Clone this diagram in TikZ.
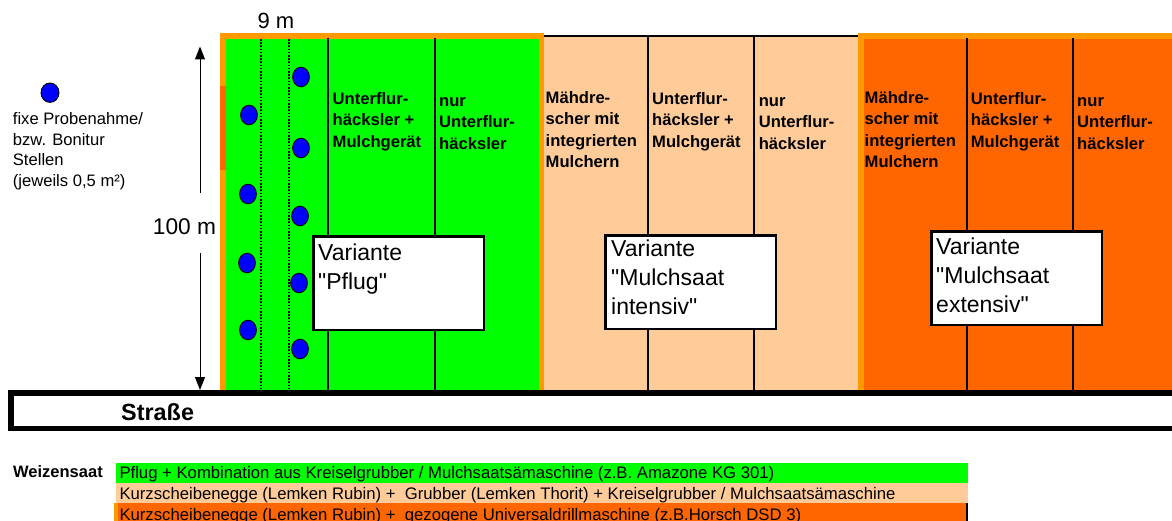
\documentclass[tikz,border=0pt]{standalone}
\usepackage{fontspec}
\setmainfont{Liberation Sans}
\usetikzlibrary{arrows.meta}
\definecolor{fgreen}{HTML}{00FF00}
\definecolor{fpeach}{HTML}{FFCC99}
\definecolor{forange}{HTML}{FF6600}
\definecolor{fborder}{HTML}{FF9900}
\definecolor{fblue}{HTML}{0000FF}
\newcommand\tstrut[1]{\rule{0pt}{#1}}
\newcommand\qq{\textquotedbl}
\begin{document}
\begin{tikzpicture}[x=1pt,y=-1pt,
  collabel/.style={font=\fontsize{16.6pt}{21.5pt}\selectfont\bfseries, align=left, inner sep=0pt, anchor=north west},
  vartext/.style={font=\fontsize{23pt}{29pt}\selectfont, align=left, inner sep=0pt, anchor=north west},
  varbox/.style={draw=black, line width=2.5pt, fill=white, anchor=north west, inner sep=0pt, minimum width=170.5pt, minimum height=93.5pt},
  divider/.style={line width=2.5pt, draw=black},
  dotline/.style={line width=1.6pt, dash pattern=on 1.6pt off 1.6pt},
  probe/.style={draw=black, line width=0.9pt, fill=fblue},
  dimarrow/.style={line width=1pt, -{Triangle[width=10pt,length=13pt]}},
  legtext/.style={font=\fontsize{16.7pt}{20pt}\selectfont, anchor=base west, inner sep=0pt},
]
\clip (0,0) rectangle (1172,521);
\fill[white] (0,0) rectangle (1172,521);

% ---- field: Pflug (green)
\fill[fgreen] (226,39) rectangle (539,390);
\fill[fborder] (220,33) rectangle (226,390);
\fill[forange] (220,86) rectangle (226,170);
\fill[fborder] (220,33) rectangle (544,39);
\fill[fborder] (539,33) rectangle (544,390);
% ---- field: Mulchsaat intensiv (peach)
\fill[fpeach] (544,35) rectangle (858,390);
\draw[line width=2.5pt] (544,35.8) -- (858,35.8);
% ---- field: Mulchsaat extensiv (orange)
\fill[forange] (864,39) rectangle (1172,390);
\fill[fborder] (858,33) rectangle (864,390);
\fill[fborder] (858,33) rectangle (1172,39);

% dotted lines
\draw[dotline] (261,39) -- (261,390);
\draw[dotline] (289,39) -- (289,390);

% dividers
\foreach \xx in {328,435,967,1073} \draw[divider] (\xx,38) -- (\xx,390);
\foreach \xx in {648,754} \draw[divider] (\xx,36) -- (\xx,390);

% probe points
\foreach \px/\py in {249/115,248/194,247/263,248/330,301/77,301/148,300/216,299/283,300/349}
  \filldraw[probe] (\px,\py) ellipse [x radius=8.4pt, y radius=9.8pt];

% column labels
\node[collabel] (g2) at (332.5,91) {\tstrut{13pt}Unterflur-\\häcksler +\\Mulchgerät};
\node[collabel] (g3) at (439,93) {\tstrut{13pt}nur\\Unterflur-\\häcksler};
\node[collabel] (p1) at (545.5,90) {\tstrut{13pt}Mähdre-\\scher mit\\integrierten\\Mulchern};
\node[collabel] (p2) at (652,91) {\tstrut{13pt}Unterflur-\\häcksler +\\Mulchgerät};
\node[collabel] (p3) at (758.6,93) {\tstrut{13pt}nur\\Unterflur-\\häcksler};
\node[collabel] (o1) at (864.5,90) {\tstrut{13pt}Mähdre-\\scher mit\\integrierten\\Mulchern};
\node[collabel] (o2) at (970.7,91) {\tstrut{13pt}Unterflur-\\häcksler +\\Mulchgerät};
\node[collabel] (o3) at (1077,93) {\tstrut{13pt}nur\\Unterflur-\\häcksler};

% Variante boxes
\node[varbox] (v1) at (312.25,235.25) {};
\node[vartext] (v1t) at (318,242) {\tstrut{18pt}Variante\\\qq Pflug\qq};
\node[varbox] (v2) at (604.25,234.25) {};
\node[vartext] (v2t) at (611,238.7) {\tstrut{18pt}Variante\\\qq Mulchsaat\\intensiv\qq};
\node[varbox] (v3) at (930.25,230.25) {};
\node[vartext] (v3t) at (936,236.3) {\tstrut{18pt}Variante\\\qq Mulchsaat\\extensiv\qq};

% 9 m
\node[font=\fontsize{22pt}{26pt}\selectfont, anchor=base, inner sep=0pt] (nm) at (276,28.3) {9 m};

% 100 m dimension
\node[font=\fontsize{22.7pt}{27pt}\selectfont, anchor=base, inner sep=0pt] (hm) at (184.5,235) {100 m};
\coordinate (atop) at (200,46.5);
\coordinate (abot) at (200,390);
\coordinate (agt) at (200,193);
\coordinate (agb) at (200,253);
\draw[dimarrow] (agt) -- (atop);
\draw[dimarrow] (agb) -- (abot);

% legend dot
\filldraw[probe] (50,92.7) ellipse [x radius=9pt, y radius=9.7pt];
\node[font=\fontsize{16.6pt}{20.9pt}\selectfont, align=left, inner sep=0pt, anchor=north west] (leg) at (12.7,111) {\tstrut{13pt}fixe Probenahme/\\bzw. Bonitur\\Stellen\\(jeweils 0,5 m²)};

% Strasse
\draw[line width=5.5pt, fill=white] (10.75,392.75) rectangle (1190,428.25);
\node[font=\fontsize{23.4pt}{28pt}\selectfont\bfseries, anchor=base west, inner sep=0pt] (str) at (121,420.5) {Straße};

% Weizensaat legend
\node[font=\fontsize{16.5pt}{20pt}\selectfont\bfseries, anchor=base west, inner sep=0pt] (wz) at (13,477.7) {Weizensaat};
\fill[fgreen] (116,462.5) rectangle (968,482.7);
\fill[fpeach] (116,482.7) rectangle (968,503.3);
\fill[forange] (114,503.3) rectangle (966,525);
\fill[fborder] (114,503.3) rectangle (117.5,525);
\draw[line width=2pt] (967,503.3) -- (967,525);
\node[legtext] (l1) at (119.3,478.3) {Pflug + Kombination aus Kreiselgrubber / Mulchsaatsämaschine (z.B. Amazone KG 301)};
\node[legtext] (l2) at (119.3,499.3) {Kurzscheibenegge (Lemken Rubin) + \ Grubber (Lemken Thorit) + Kreiselgrubber / Mulchsaatsämaschine};
\node[legtext] (l3) at (119.3,520.3) {Kurzscheibenegge (Lemken Rubin) + \ gezogene Universaldrillmaschine (z.B.Horsch DSD 3)};
\end{tikzpicture}
\end{document}
